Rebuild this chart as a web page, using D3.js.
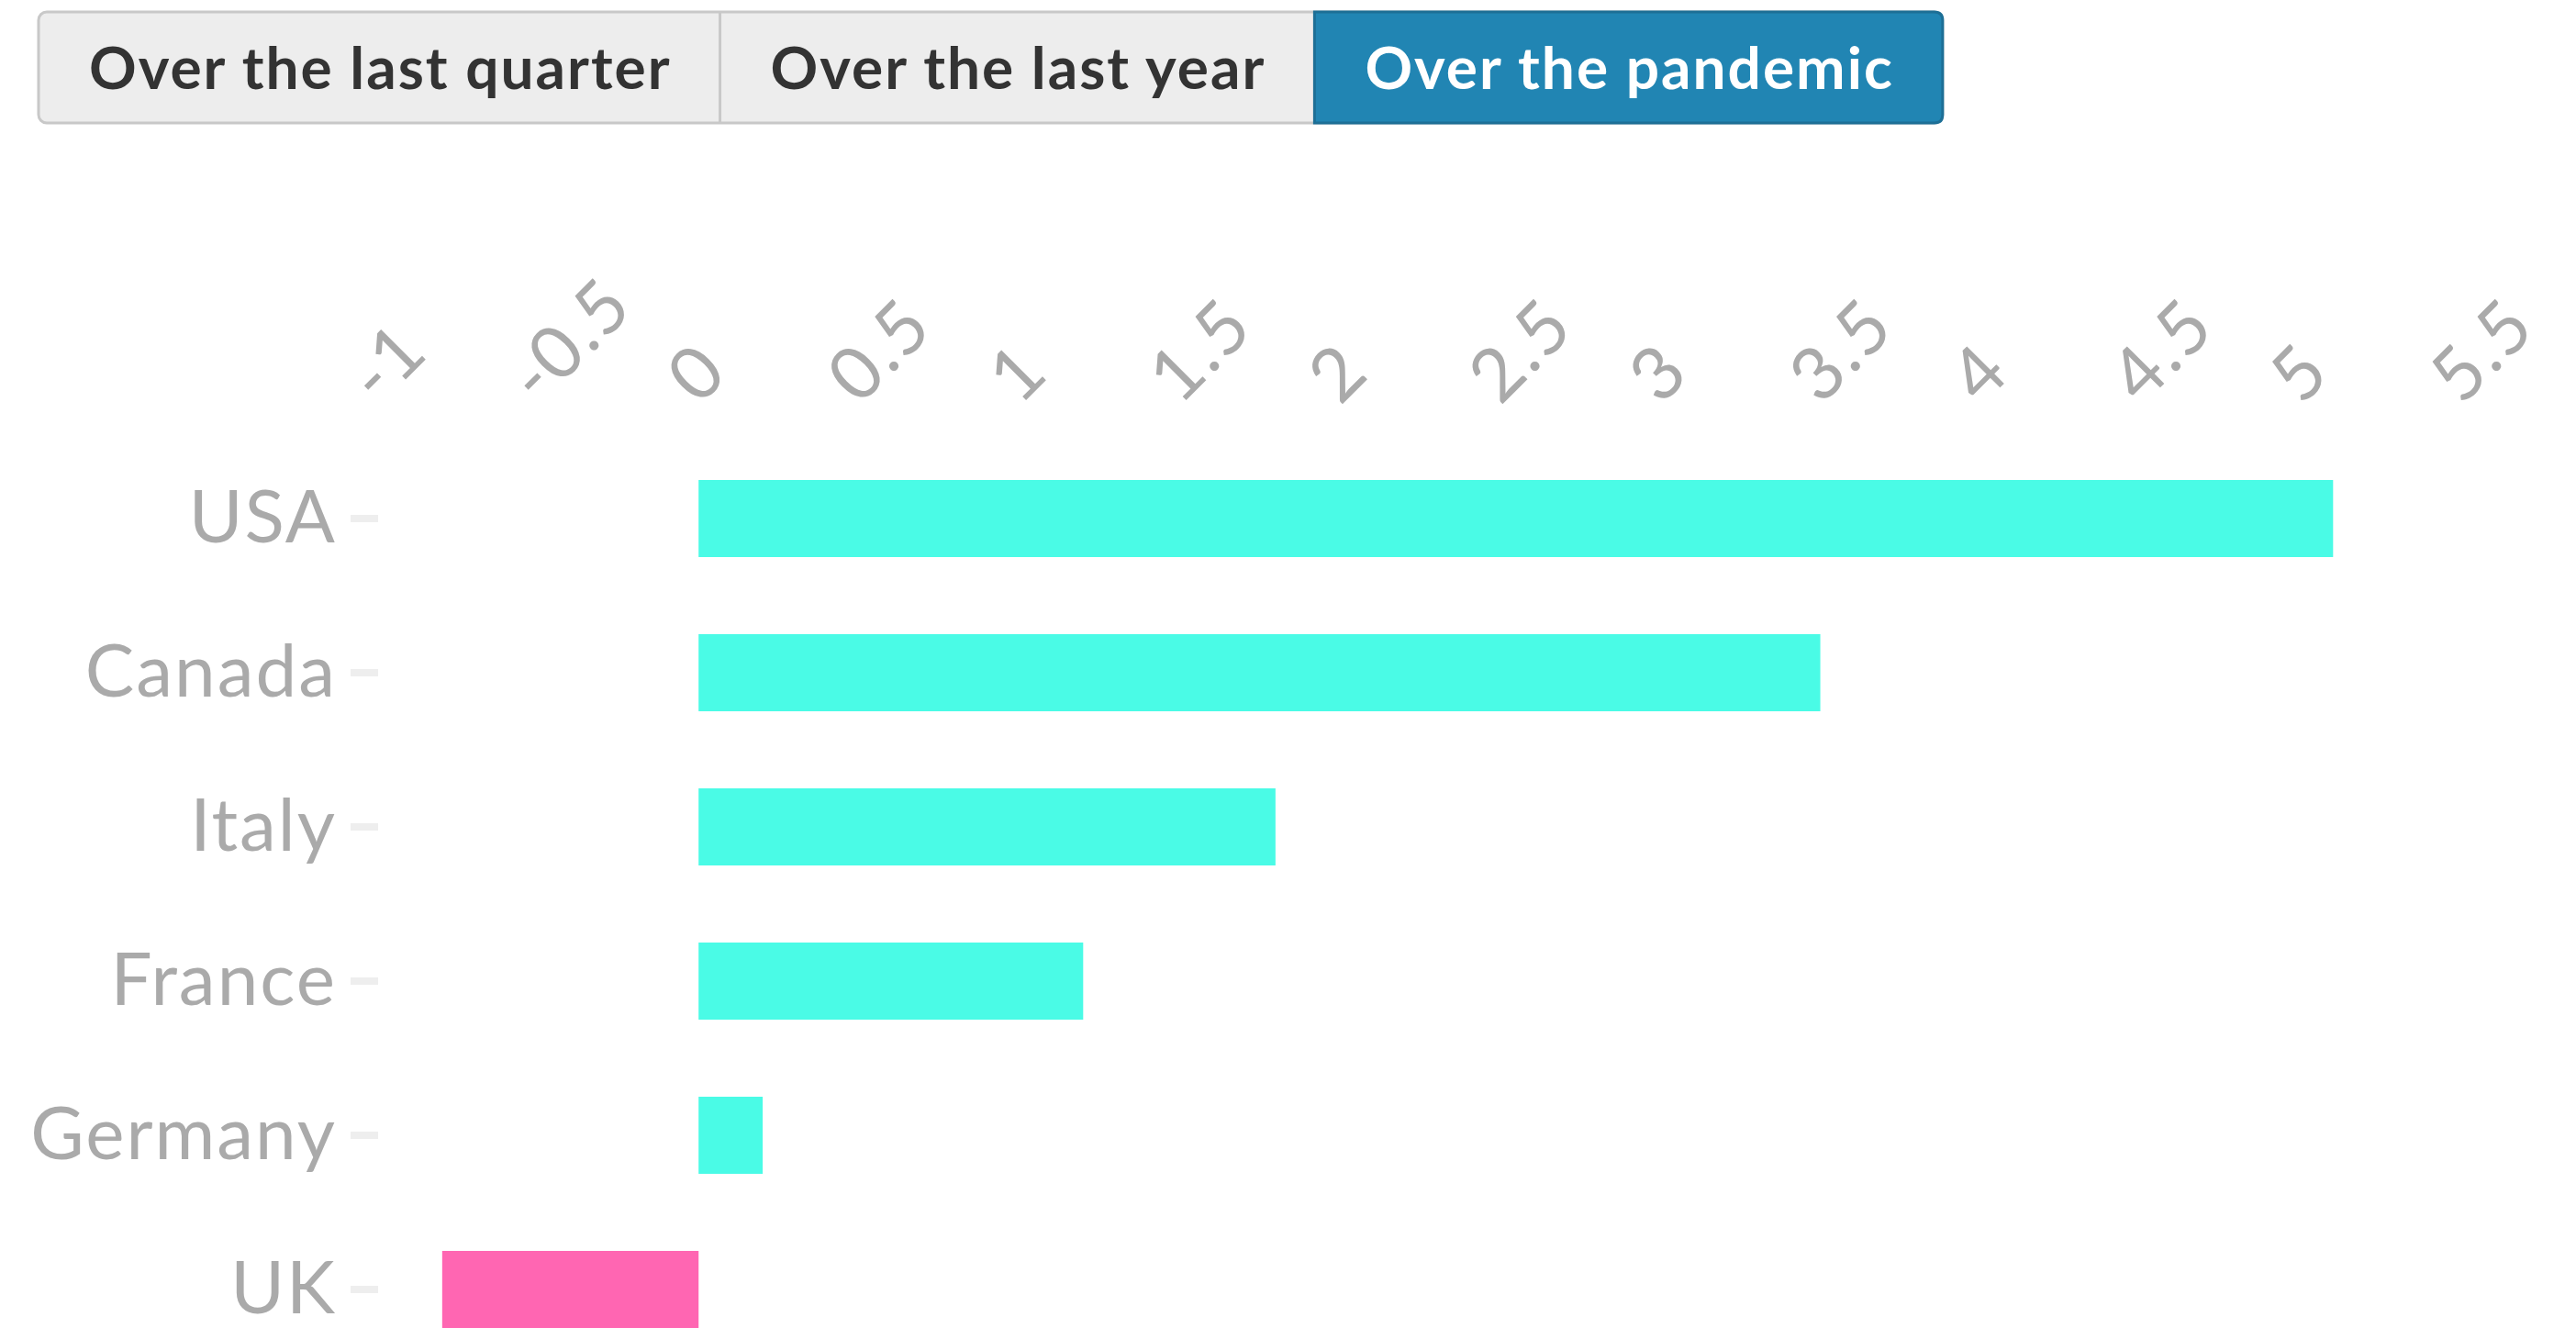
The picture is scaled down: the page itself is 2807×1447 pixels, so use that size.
<!DOCTYPE html>
<html>
<head>
<meta charset="utf-8">
<script src="https://cdn.jsdelivr.net/npm/d3@7"></script>
<style>
  body { margin: 0; background: #fff; }
  svg { display: block; font-family: Lato, 'Open Sans', sans-serif; }
</style>
</head>
<body>
<div id="chart"></div>
<script>
// data
const countries = ['USA', 'Canada', 'Italy', 'France', 'Germany', 'UK']
const growth = [5.1, 3.5, 1.8, 1.2, 0.2, -0.8]
const xTickValues = [-1, -0.5, 0, 0.5, 1, 1.5, 2, 2.5, 3, 3.5, 4, 4.5, 5, 5.5]
const buttonLabels = ['Over the last quarter', 'Over the last year', 'Over the pandemic']
const activeButton = 2

const width = 2807
const height = 1447

const svg = d3
  .select('#chart')
  .append('svg')
  .attr('width', width)
  .attr('height', height)

// button group at the top
const buttons = svg.append('g').attr('class', 'buttons')
const btnLeft = 42
const btnTop = 13
const btnHeight = 121
const btnPad = 54

let bx = btnLeft
const btnData = buttonLabels.map((label, i) => {
  const t = buttons.append('text')
    .attr('font-size', 64)
    .attr('font-weight', 'bold')
    .attr('letter-spacing', 2)
    .text(label)
  const w = t.node().getComputedTextLength() + btnPad * 2
  t.remove()
  const d = { label: label, x: bx, w: w, active: i === activeButton }
  bx += w
  return d
})

const totalW = bx - btnLeft

// outer rounded frame
buttons.append('rect')
  .attr('x', btnLeft)
  .attr('y', btnTop)
  .attr('width', totalW)
  .attr('height', btnHeight)
  .attr('rx', 9)
  .attr('fill', '#ededed')
  .attr('stroke', '#c8c8c8')
  .attr('stroke-width', 3)

const btn = buttons.selectAll('.btn')
  .data(btnData)
  .enter()
  .append('g')
  .attr('class', 'btn')

// active one is drawn with its own rounded right corners
btn.filter(d => d.active)
  .append('path')
  .attr('d', d => {
    const r = 9
    const x0 = d.x
    const x1 = d.x + d.w
    const y0 = btnTop
    const y1 = btnTop + btnHeight
    return 'M' + x0 + ',' + y0 + 'H' + (x1 - r) + 'Q' + x1 + ',' + y0 + ' ' + x1 + ',' + (y0 + r) +
      'V' + (y1 - r) + 'Q' + x1 + ',' + y1 + ' ' + (x1 - r) + ',' + y1 + 'H' + x0 + 'Z'
  })
  .attr('fill', '#2185b3')
  .attr('stroke', '#1d6f96')
  .attr('stroke-width', 3)

btn.filter((d, i) => i > 0 && !d.active)
  .append('line')
  .attr('x1', d => d.x)
  .attr('x2', d => d.x)
  .attr('y1', btnTop)
  .attr('y2', btnTop + btnHeight)
  .attr('stroke', '#c8c8c8')
  .attr('stroke-width', 3)

btn.append('text')
  .attr('x', d => d.x + d.w / 2 + 1)
  .attr('y', 97)
  .attr('text-anchor', 'middle')
  .attr('font-size', 64)
  .attr('font-weight', 'bold')
  .attr('letter-spacing', 2)
  .attr('fill', d => d.active ? '#fff' : '#333')
  .text(d => d.label)

// scales
const x = d3.scaleLinear()
  .domain([-1, 5.5])
  .range([412, 2682])

const y = d3.scaleBand()
  .domain(countries)
  .range([523, 1447])
  .paddingInner(0.5)
  .paddingOuter(0)

// top axis, rotated labels, no ticks
const xAxis = svg.append('g')
  .attr('class', 'x-axis')
  .attr('transform', 'translate(0,443)')
  .call(d3.axisTop(x)
    .tickValues(xTickValues)
    .tickSize(0)
    .tickPadding(0)
    .tickFormat(d => String(d)))

xAxis.select('.domain').remove()
xAxis.selectAll('text')
  .attr('y', 0)
  .attr('dy', 0)
  .attr('text-anchor', 'start')
  .attr('transform', 'rotate(-45)')
  .attr('font-size', 80)
  .attr('font-family', 'Lato, sans-serif')
  .attr('letter-spacing', 2)
  .attr('fill', '#aaa')

// left axis
const yAxis = svg.append('g')
  .attr('class', 'y-axis')
  .attr('transform', 'translate(' + x(-1) + ',0)')
  .call(d3.axisLeft(y).tickSize(30).tickPadding(20))

yAxis.select('.domain').remove()
yAxis.selectAll('.tick line')
  .attr('stroke', '#eee')
  .attr('stroke-width', 8)
yAxis.selectAll('text')
  .attr('dx', 5)
  .attr('font-size', 80)
  .attr('font-family', 'Lato, sans-serif')
  .attr('letter-spacing', 2)
  .attr('fill', '#aaa')

// bars
const rows = countries.map((c, i) => ({ country: c, value: growth[i] }))

svg.selectAll('.bar')
  .data(rows)
  .enter()
  .append('rect')
  .attr('class', 'bar')
  .attr('x', d => x(Math.min(0, d.value)))
  .attr('y', d => y(d.country))
  .attr('width', d => Math.abs(x(d.value) - x(0)))
  .attr('height', y.bandwidth())
  .attr('fill', d => d.value < 0 ? '#ff66b2' : '#4afbe6')
</script>
</body>
</html>
